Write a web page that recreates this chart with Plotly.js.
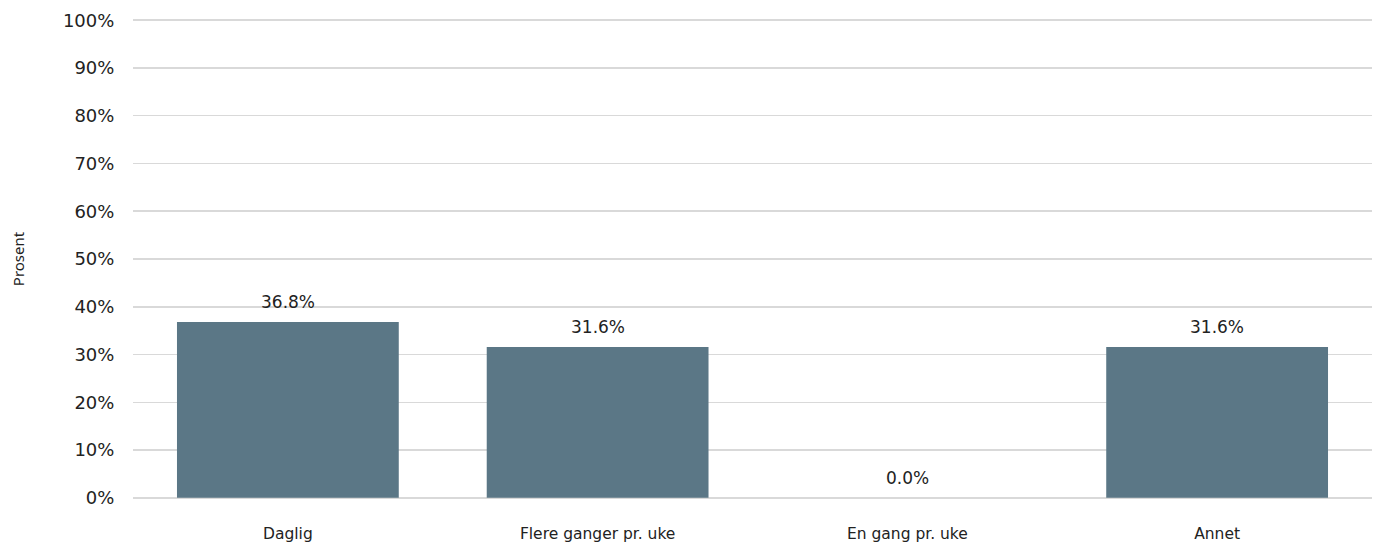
<!DOCTYPE html>
<html>
<head>
<meta charset="utf-8">
<script src="https://cdn.plot.ly/plotly-3.0.1.min.js"></script>
<style>html,body{margin:0;padding:0;background:#fff;}#chart{width:1378px;height:547px;}</style>
</head>
<body>
<div id="chart"></div>
<script>
var categories = ["Daglig", "Flere ganger pr. uke", "En gang pr. uke", "Annet"];
var values = [36.8, 31.6, 0.0, 31.6];
var tickVals = [0, 10, 20, 30, 40, 50, 60, 70, 80, 90, 100];
var tickLabels = tickVals.map(function(v){ return v + "%"; });
var labels = values.map(function(v){ return v.toFixed(1) + "%"; });

var fontFam = "DejaVu Sans, Liberation Sans, sans-serif";

var trace = {
  type: "bar",
  x: categories,
  y: values,
  marker: {color: "#5b7786"},
  width: 0.716,
  hoverinfo: "none"
};

var annotations = categories.map(function(c, i){
  return {x: c, y: values[i], xref: "x", yref: "y", text: labels[i], showarrow: false,
    yanchor: "bottom", yshift: 8, font: {family: fontFam, size: 17, color: "#222"}};
});

var layout = {
  width: 1378, height: 547,
  margin: {l: 133, r: 6, t: 19, b: 48},
  paper_bgcolor: "#fff", plot_bgcolor: "#fff",
  showlegend: false,
  font: {family: fontFam, size: 16, color: "#222"},
  xaxis: {
    type: "category",
    showgrid: false, zeroline: false, showline: false,
    ticks: "outside", ticklen: 20, tickcolor: "rgba(0,0,0,0)",
    tickfont: {family: fontFam, size: 15.5, color: "#222"},
    automargin: false
  },
  yaxis: {
    range: [-0.25, 100.25],
    tickvals: tickVals, ticktext: tickLabels,
    showgrid: true, gridcolor: "#d9d9d9", gridwidth: 1.5,
    zeroline: false, showline: false,
    ticks: "outside", ticklen: 14, tickcolor: "rgba(0,0,0,0)",
    tickfont: {family: fontFam, size: 18, color: "#222"},
    title: {text: "Prosent", standoff: 34, font: {family: "Noto Sans, sans-serif", size: 15, color: "#222"}},
    automargin: false
  },
  annotations: annotations
};

Plotly.newPlot("chart", [trace], layout, {staticPlot: true, displayModeBar: false});
</script>
</body>
</html>
